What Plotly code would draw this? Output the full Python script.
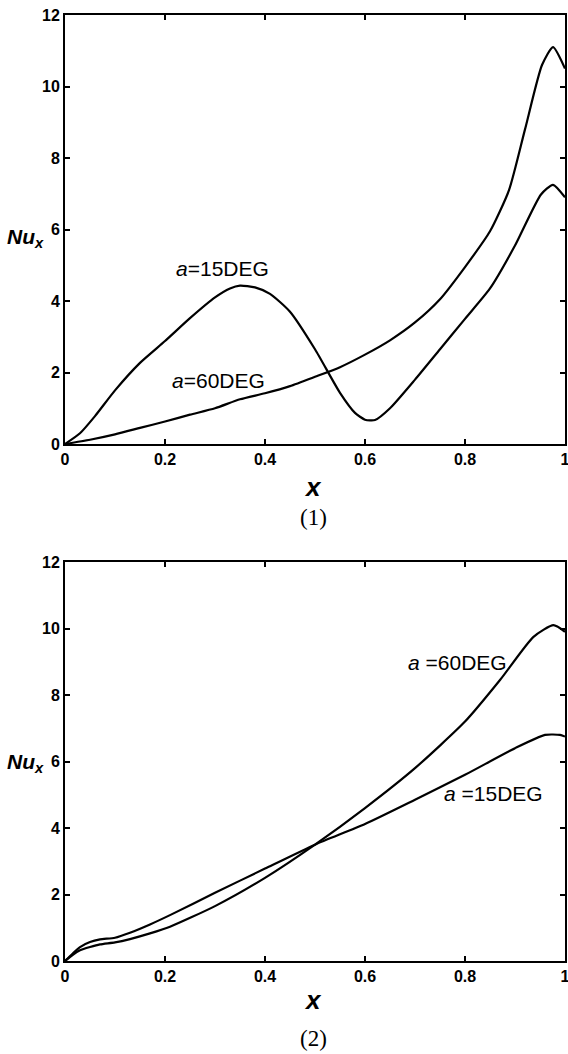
import plotly.graph_objects as go

W, H = 568, 1054

# ---- data ----
x_top_15 = [0.0, 0.03, 0.06, 0.1, 0.15, 0.2, 0.25, 0.3, 0.33, 0.35, 0.38, 0.41, 0.45, 0.5, 0.55, 0.58, 0.6, 0.62, 0.65, 0.7, 0.75, 0.8, 0.85, 0.9, 0.952, 0.976, 1.0]
y_top_15 = [0.0, 0.3, 0.78, 1.5, 2.27, 2.88, 3.52, 4.1, 4.35, 4.43, 4.38, 4.2, 3.7, 2.65, 1.43, 0.87, 0.68, 0.67, 1.0, 1.8, 2.65, 3.5, 4.35, 5.55, 6.98, 7.25, 6.9]
x_top_60 = [0.0, 0.05, 0.1, 0.15, 0.2, 0.25, 0.3, 0.35, 0.4, 0.45, 0.5, 0.55, 0.6, 0.65, 0.7, 0.75, 0.8, 0.85, 0.888, 0.92, 0.954, 0.976, 1.0]
y_top_60 = [0.0, 0.12, 0.27, 0.45, 0.63, 0.82, 1.0, 1.25, 1.42, 1.62, 1.88, 2.15, 2.5, 2.9, 3.4, 4.05, 4.95, 5.95, 7.1, 8.8, 10.6, 11.1, 10.5]

x_bot_15 = [0.0, 0.015, 0.03, 0.05, 0.07, 0.1, 0.13, 0.17, 0.21, 0.3, 0.4, 0.5, 0.6, 0.7, 0.8, 0.9, 0.96, 0.99, 1.0]
y_bot_15 = [0.0, 0.22, 0.42, 0.57, 0.65, 0.7, 0.85, 1.1, 1.38, 2.05, 2.78, 3.5, 4.12, 4.85, 5.6, 6.4, 6.8, 6.8, 6.75]
x_bot_60 = [0.0, 0.015, 0.03, 0.05, 0.07, 0.1, 0.13, 0.17, 0.21, 0.3, 0.4, 0.5, 0.6, 0.7, 0.8, 0.87, 0.937, 0.977, 1.0]
y_bot_60 = [0.0, 0.18, 0.32, 0.42, 0.5, 0.56, 0.66, 0.83, 1.03, 1.65, 2.5, 3.5, 4.6, 5.8, 7.2, 8.45, 9.75, 10.1, 9.9]

x_ticks = [0, 0.2, 0.4, 0.6, 0.8, 1]
y_ticks = [0, 2, 4, 6, 8, 10, 12]

label_15 = "<i>a</i>=15DEG"
label_60 = "<i>a</i>=60DEG"

fig = go.Figure()
line = dict(color="black", width=2.2, shape="spline", smoothing=0.6)
fig.add_trace(go.Scatter(x=x_top_15, y=y_top_15, mode="lines", line=line, xaxis="x", yaxis="y", showlegend=False))
fig.add_trace(go.Scatter(x=x_top_60, y=y_top_60, mode="lines", line=line, xaxis="x", yaxis="y", showlegend=False))
fig.add_trace(go.Scatter(x=x_bot_15, y=y_bot_15, mode="lines", line=line, xaxis="x2", yaxis="y2", showlegend=False))
fig.add_trace(go.Scatter(x=x_bot_60, y=y_bot_60, mode="lines", line=line, xaxis="x2", yaxis="y2", showlegend=False))

tickfont = dict(family="Liberation Sans Narrow, Liberation Sans, Arial", size=16, color="black", weight="bold")
ax_common = dict(showline=True, linecolor="black", linewidth=2, mirror="ticks", ticks="inside",
                 ticklen=5, tickwidth=1.5, tickcolor="black", showgrid=False, zeroline=False,
                 tickfont=tickfont, ticklabeloverflow="allow")

def fx(px):
    return px / W

def fy(py):
    return 1 - py / H

xd = [fx(65), fx(565)]
fig.update_layout(
    width=W, height=H, margin=dict(l=0, r=0, t=0, b=0, autoexpand=False),
    paper_bgcolor="white", plot_bgcolor="white",
    xaxis=dict(domain=xd, range=[0, 1], tickvals=x_ticks, anchor="y", **ax_common),
    yaxis=dict(domain=[fy(444), fy(15)], range=[0, 12], tickvals=y_ticks, anchor="x", **ax_common),
    xaxis2=dict(domain=xd, range=[0, 1], tickvals=x_ticks, anchor="y2", **ax_common),
    yaxis2=dict(domain=[fy(961), fy(562)], range=[0, 12], tickvals=y_ticks, anchor="x2", **ax_common),
)

def pa(text, px, py, size, family="Liberation Sans, Arial", xanchor="center"):
    fig.add_annotation(text=text, x=fx(px), y=fy(py), xref="paper", yref="paper",
                       showarrow=False, xanchor=xanchor, yanchor="middle",
                       font=dict(family=family, size=size, color="black"))

ylab = "<b><i>Nu</i></b><sub><b><i>x</i></b></sub>"
# top panel
pa(label_15, 222, 268, 21)
pa(label_60, 218, 380, 21)
pa("<b><i>x</i></b>", 313, 487, 26)
pa("(1)", 313, 517, 23, family="Liberation Serif, Times New Roman")
pa(ylab, 5, 238, 21, xanchor="left")
# bottom panel
pa("<i>a</i> =60DEG", 457, 662, 21)
pa("<i>a</i> =15DEG", 493, 793, 21)
pa("<b><i>x</i></b>", 313, 1000, 26)
pa("(2)", 313, 1038, 23, family="Liberation Serif, Times New Roman")
pa(ylab, 5, 763, 21, xanchor="left")

fig.write_html("out.html", config={"displayModeBar": False},
               post_script="document.body.style.margin='0';document.body.style.overflow='hidden';")
